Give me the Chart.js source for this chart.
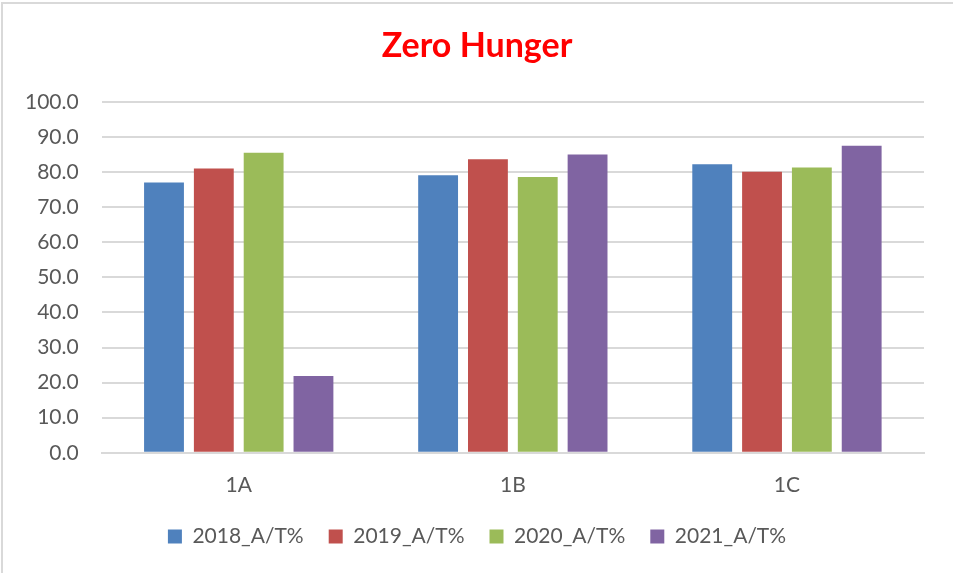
<!DOCTYPE html>
<html>
<head>
<meta charset="utf-8">
<script src="https://cdn.jsdelivr.net/npm/chart.js@4.4.1/dist/chart.umd.min.js"></script>
<style>
  body { margin: 0; background: #fff; }
  #wrap {
    position: absolute; left: 1px; top: 2px; width: 960px; height: 580px;
    border-top: 2px solid #d9d9d9; border-left: 2px solid #d9d9d9;
  }
  canvas { position: absolute; left: 0; top: 0; }
</style>
</head>
<body>
<div id="wrap"></div>
<canvas id="myChart" width="953" height="573"></canvas>
<script>
const categories = ['1A', '1B', '1C'];
const seriesNames = ['2018_A/T%', '2019_A/T%', '2020_A/T%', '2021_A/T%'];
const values2018 = [77.0, 79.1, 82.2];
const values2019 = [81.0, 83.6, 80.1];
const values2020 = [85.5, 78.6, 81.3];
const values2021 = [21.9, 85.0, 87.5];
const colors = ['#4f81bd', '#c0504d', '#9bbb59', '#8064a2'];

const font = 'Lato, "Liberation Sans", sans-serif';

const ctx = document.getElementById('myChart').getContext('2d');
const myChart = new Chart(ctx, {
    type: 'bar',
    data: {
        labels: categories,
        datasets: [values2018, values2019, values2020, values2021].map((vals, i) => ({
            label: seriesNames[i],
            data: vals,
            backgroundColor: colors[i],
            borderWidth: 0,
            categoryPercentage: 0.727,
            barPercentage: 0.8
        }))
    },
    options: {
        responsive: false,
        animation: false,
        layout: { padding: { left: 2, right: 1, top: 10, bottom: 16 } },
        plugins: {
            title: {
                display: true,
                text: 'Zero Hunger',
                color: '#ff0000',
                font: { family: font, size: 34, weight: 'bold' },
                padding: { top: 16, bottom: 35 }
            },
            legend: {
                position: 'bottom',
                labels: {
                    color: '#595959',
                    font: { family: font, size: 21 },
                    boxWidth: 14,
                    boxHeight: 14,
                    padding: 25
                }
            },
            tooltip: { enabled: false }
        },
        scales: {
            x: {
                grid: { display: false, drawTicks: false },
                border: { color: '#d9d9d9', width: 2 },
                ticks: { color: '#595959', font: { family: font, size: 21 }, padding: 20 },
                afterFit: s => { s.height -= 17; }
            },
            y: {
                min: 0,
                max: 100,
                ticks: {
                    stepSize: 10,
                    color: '#595959',
                    font: { family: font, size: 21 },
                    padding: 23,
                    callback: v => v.toFixed(1)
                },
                grid: { color: '#d9d9d9', lineWidth: 2, drawTicks: false },
                border: { display: false }
            },
            // empty right axis, only keeps the plot clear of the right edge
            yRight: {
                position: 'right',
                grid: { display: false, drawTicks: false },
                border: { display: false },
                ticks: { display: false },
                afterFit: s => { s.width = 28; }
            }
        }
    }
});
</script>
</body>
</html>
